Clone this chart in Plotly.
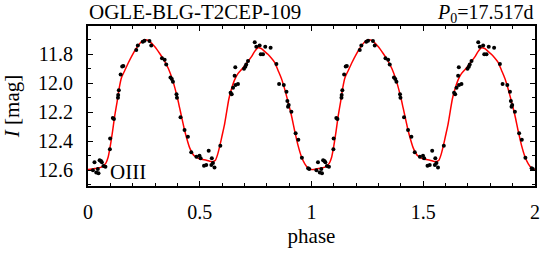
import plotly.graph_objects as go

# Observed photometry (phase in [0,1]), I magnitude
phase_obs = [0.022, 0.029, 0.037, 0.044, 0.047, 0.052, 0.058, 0.062, 0.069, 0.078,
             0.098, 0.099, 0.111, 0.116, 0.134, 0.135, 0.138, 0.146, 0.153, 0.158,
             0.216, 0.223, 0.245, 0.253, 0.275, 0.283, 0.331, 0.343, 0.350, 0.369,
             0.375, 0.380, 0.396, 0.398, 0.414, 0.432, 0.447, 0.462, 0.485, 0.499,
             0.504, 0.519, 0.529, 0.540, 0.552, 0.554, 0.559, 0.566, 0.592, 0.638,
             0.643, 0.649, 0.656, 0.659, 0.660, 0.671, 0.698, 0.704, 0.708, 0.716,
             0.746, 0.753, 0.768, 0.773, 0.783, 0.793, 0.817, 0.843, 0.855, 0.876,
             0.888, 0.892, 0.895, 0.898, 0.910, 0.929, 0.941, 0.957, 0.985, 0.990]
mag_obs = [12.600, 12.545, 12.615, 12.590, 12.620, 12.530, 12.535, 12.545, 12.570, 12.575,
           12.455, 12.380, 12.240, 12.246, 12.100, 12.080, 12.048, 11.940, 11.885, 11.880,
           11.770, 11.740, 11.713, 11.706, 11.708, 11.740, 11.828, 11.837, 11.870, 11.960,
           11.970, 11.990, 12.076, 12.100, 12.234, 12.322, 12.368, 12.476, 12.506, 12.500,
           12.517, 12.568, 12.563, 12.465, 12.563, 12.517, 12.550, 12.580, 12.430, 12.065,
           12.075, 12.030, 11.948, 11.890, 12.012, 12.005, 11.900, 11.886, 11.870, 11.846,
           11.717, 11.748, 11.740, 11.800, 11.800, 11.748, 11.755, 11.867, 12.005, 12.012,
           12.058, 12.122, 12.161, 12.150, 12.196, 12.345, 12.390, 12.513, 12.585, 12.590]

# Fitted light curve (phase in [0,1])
phase_fit = [0.00, 0.03, 0.06, 0.08, 0.09, 0.10, 0.11, 0.12, 0.13, 0.14, 0.15, 0.165,
             0.18, 0.20, 0.22, 0.24, 0.255, 0.27, 0.285, 0.30, 0.32, 0.34, 0.36, 0.38,
             0.40, 0.41, 0.42, 0.43, 0.44, 0.455, 0.475, 0.50, 0.53, 0.555, 0.57, 0.58,
             0.59, 0.60, 0.61, 0.62, 0.63, 0.64, 0.655, 0.67, 0.69, 0.71, 0.73, 0.745,
             0.76, 0.775, 0.79, 0.805, 0.82, 0.835, 0.85, 0.865, 0.88, 0.895, 0.91,
             0.925, 0.94, 0.955, 0.97, 0.985, 1.00]
mag_fit = [12.595, 12.588, 12.578, 12.550, 12.510, 12.430, 12.330, 12.220, 12.130, 12.030,
           11.960, 11.910, 11.860, 11.800, 11.750, 11.712, 11.700, 11.705, 11.725, 11.750,
           11.793, 11.840, 11.900, 11.985, 12.100, 12.170, 12.240, 12.310, 12.370, 12.445,
           12.500, 12.522, 12.530, 12.540, 12.530, 12.490, 12.430, 12.360, 12.290, 12.200,
           12.110, 12.050, 11.980, 11.935, 11.900, 11.860, 11.820, 11.782, 11.755, 11.760,
           11.780, 11.800, 11.825, 11.855, 11.910, 11.966, 12.040, 12.127, 12.220, 12.330,
           12.430, 12.506, 12.555, 12.585, 12.595]

x_tick_vals = [0, 0.5, 1, 1.5, 2]
x_tick_text = ["0", "0.5", "1", "1.5", "2"]
y_tick_vals = [11.8, 12.0, 12.2, 12.4, 12.6]
y_tick_text = ["11.8", "12.0", "12.2", "12.4", "12.6"]

star_name = "OGLE-BLG-T2CEP-109"
period_text = "<i>P</i><sub>0</sub>=17.517d"
mode_label = "OIII"

x_obs = phase_obs + [p + 1 for p in phase_obs]
y_obs = mag_obs + mag_obs
x_fit = phase_fit + [p + 1 for p in phase_fit[1:]]
y_fit = mag_fit + mag_fit[1:]

FONT = "Liberation Serif"

fig = go.Figure()
fig.add_trace(go.Scatter(x=x_fit, y=y_fit, mode="lines",
                         line=dict(color="#ff0000", width=1.5, shape="spline", smoothing=0.6),
                         hoverinfo="skip"))
fig.add_trace(go.Scatter(x=x_obs, y=y_obs, mode="markers",
                         marker=dict(color="black", size=4, line=dict(width=0))))

axis_common = dict(showline=True, linecolor="black", linewidth=2, mirror="ticks",
                   ticks="inside", ticklen=5, tickwidth=1, tickcolor="black",
                   showgrid=False, zeroline=False, automargin=False,
                   tickfont=dict(family=FONT, size=20, color="black"))

fig.update_xaxes(range=[0, 2], tickvals=x_tick_vals, ticktext=x_tick_text,
                 minor=dict(dtick=0.1, tick0=0, ticks="inside", ticklen=3, tickcolor="black", showgrid=False),
                 ticklabelstandoff=7,
                 title=dict(text="phase", font=dict(family=FONT, size=21, color="black"), standoff=6),
                 **axis_common)
fig.update_yaxes(range=[12.708, 11.605], tickvals=y_tick_vals, ticktext=y_tick_text,
                 minor=dict(dtick=0.1, tick0=11.8, ticks="inside", ticklen=3, tickcolor="black", showgrid=False),
                 ticklabelstandoff=9,
                 title=dict(text="<i>I</i> [mag]", font=dict(family=FONT, size=21, color="black"), standoff=15),
                 **axis_common)

fig.add_annotation(text=star_name, xref="paper", yref="paper", x=0, y=1.0,
                   xanchor="left", yanchor="bottom", yshift=1, borderpad=0, showarrow=False,
                   font=dict(family=FONT, size=21, color="black"))
fig.add_annotation(text=period_text, xref="paper", yref="paper", x=1, y=1.0,
                   xanchor="right", yanchor="bottom", yshift=-1, borderpad=0, showarrow=False,
                   font=dict(family=FONT, size=20, color="black"))
fig.add_annotation(text=mode_label, xref="paper", yref="paper", x=0.045, y=0.085,
                   xanchor="left", yanchor="middle", showarrow=False,
                   font=dict(family=FONT, size=21, color="black"))

fig.update_layout(template="none", width=548, height=253,
                  margin=dict(l=88, r=13, t=26, b=67),
                  plot_bgcolor="white", paper_bgcolor="white", showlegend=False,
                  font=dict(family=FONT, color="black"))

fig.write_html("out.html", config={"displayModeBar": False, "staticPlot": True},
               post_script="document.body.style.margin='0';")
